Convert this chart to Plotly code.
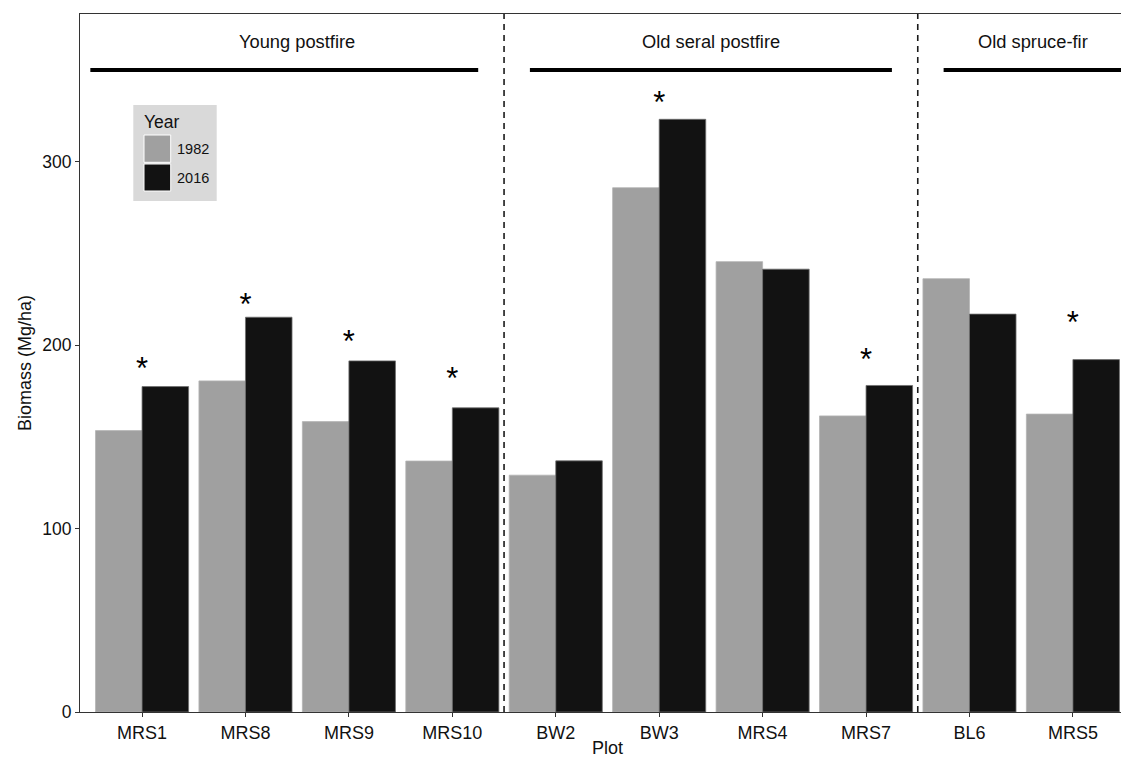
import plotly.graph_objects as go

# Plot names, biomass per survey year (Mg/ha) and significance markers
plots = ["MRS1", "MRS8", "MRS9", "MRS10", "BW2", "BW3", "MRS4", "MRS7", "BL6", "MRS5"]
biomass_1982 = [153.4, 180.5, 158.3, 136.8, 129.1, 285.8, 245.5, 161.4, 236.2, 162.4]
biomass_2016 = [177.4, 215.2, 191.4, 165.8, 136.9, 323.1, 241.4, 178.0, 216.9, 192.1]
signif_plots = ["MRS1", "MRS8", "MRS9", "MRS10", "BW3", "MRS7", "MRS5"]
signif_heights = [185.5, 220.5, 200.5, 180.5, 330.5, 190.5, 211.0]

# Stand-type groups: label, first plot, last plot
groups = [
    ("Young postfire", "MRS1", "MRS10"),
    ("Old seral postfire", "BW2", "MRS7"),
    ("Old spruce-fir", "BL6", "MRS5"),
]
years = ["1982", "2016"]
year_colors = ["#a0a0a0", "#121212"]

W, H = 1121, 758
L, R, T, B = 80, 0, 14, 46
FONT = "Liberation Sans, Arial, Helvetica, sans-serif"
Y_MAX = 380.5
X_RANGE = [-0.6, 9.465]

fig = go.Figure()
for yr, vals, col in zip(years, [biomass_1982, biomass_2016], year_colors):
    fig.add_trace(go.Bar(
        x=plots, y=vals, name=yr, marker_color=col,
        marker_line_color="#6e6e6e" if yr == "2016" else "#b4b4b4",
        marker_line_width=0.8, showlegend=False,
    ))

# Significance asterisks
fig.add_trace(go.Scatter(
    x=signif_plots, y=signif_heights, mode="text", text=["*"] * len(signif_plots),
    textposition="middle center", textfont=dict(family=FONT, size=31, color="black"),
    showlegend=False, hoverinfo="skip",
))

shapes = []
annotations = []
idx = {p: i for i, p in enumerate(plots)}

# Dashed separators between groups
for _, first, _last in groups[1:]:
    xs = idx[first] - 0.5
    shapes.append(dict(type="line", xref="x", yref="paper", x0=xs, x1=xs, y0=0, y1=1,
                       line=dict(color="#1a1a1a", width=1.6, dash="6px,5px")))

# Group header bars and labels
header_y = 350
label_y = 365.5
for gi, (name, first, last) in enumerate(groups):
    x0 = idx[first] - (0.5 if gi == 0 else 0.25)
    x1 = idx[last] + (0.25 if gi < len(groups) - 1 else 0.6)
    shapes.append(dict(type="line", xref="x", yref="y", x0=x0, x1=x1, y0=header_y, y1=header_y,
                       line=dict(color="black", width=4)))
    cx = (idx[first] + idx[last]) / 2 if gi < len(groups) - 1 else idx[first] + 0.61
    annotations.append(dict(x=cx, y=label_y, xref="x", yref="y", text=name, showarrow=False,
                            xanchor="center", yanchor="middle",
                            font=dict(family=FONT, size=18.3, color="#111")))


def px(xp):
    return (xp - L) / (W - L - R)


def py(yp):
    return (H - B - yp) / (H - T - B)


# Legend box
shapes.append(dict(type="rect", xref="paper", yref="paper", x0=px(133.3), x1=px(216.7),
                   y0=py(201), y1=py(105), fillcolor="#d9d9d9", line=dict(width=0), layer="above"))
key_rows = [(135, 162.3), (164, 191)]
for (top, bot), col, yr in zip(key_rows, year_colors, years):
    shapes.append(dict(type="rect", xref="paper", yref="paper", x0=px(144), x1=px(170.7),
                       y0=py(bot), y1=py(top), fillcolor=col, line=dict(color="white", width=1),
                       layer="above"))
    annotations.append(dict(x=px(175), y=py((top + bot) / 2), xref="paper", yref="paper",
                            text=yr, showarrow=False, xanchor="left", yanchor="middle",
                            font=dict(family=FONT, size=14.5, color="#111")))
annotations.append(dict(x=px(142), y=py(122), xref="paper", yref="paper", text="Year",
                        showarrow=False, xanchor="left", yanchor="middle",
                        font=dict(family=FONT, size=17.5, color="#111")))

# Axis titles
annotations.append(dict(x=4.5, y=py(747.5), xref="x", yref="paper", text="Plot", showarrow=False,
                        xanchor="center", yanchor="middle",
                        font=dict(family=FONT, size=18, color="#111")))
annotations.append(dict(x=px(25), y=0.5, xref="paper", yref="paper", text="Biomass (Mg/ha)",
                        showarrow=False, textangle=-90, xanchor="center", yanchor="middle",
                        font=dict(family=FONT, size=18, color="#111")))

fig.update_layout(
    width=W, height=H,
    margin=dict(l=L, r=R, t=T, b=B, pad=0),
    paper_bgcolor="white", plot_bgcolor="white",
    barmode="group", bargap=0.1, bargroupgap=0.0,
    shapes=shapes, annotations=annotations,
    font=dict(family=FONT, color="#111"),
)
fig.update_xaxes(
    type="category", range=X_RANGE, showgrid=False, zeroline=False,
    showline=True, linecolor="#333", linewidth=1, mirror=True,
    ticks="outside", ticklen=4, tickcolor="#333", tickwidth=1,
    tickfont=dict(family=FONT, size=18, color="#111"),
)
fig.update_yaxes(
    range=[0, Y_MAX], showgrid=False, zeroline=False,
    showline=True, linecolor="#333", linewidth=1,
    tickvals=[0, 100, 200, 300], ticks="outside", ticklen=4, tickcolor="#333", tickwidth=1,
    tickfont=dict(family=FONT, size=17.5, color="#111"),
)

fig.write_html("out.html")
